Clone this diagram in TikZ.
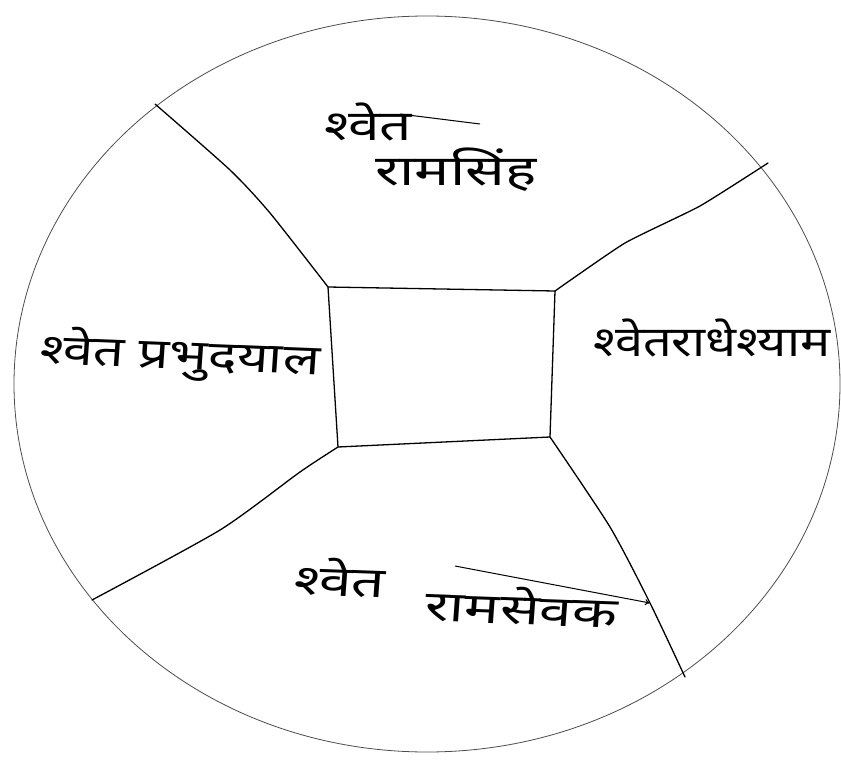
\documentclass[tikz,border=0pt]{standalone}
\usepackage{fontspec}
\newfontfamily\deva[Script=Devanagari]{Noto Sans}
\usetikzlibrary{arrows.meta}
\tikzset{
  wall/.style={line width=1.3pt, black, line cap=round, line join=round},
  rim/.style={line width=0.8pt, black!70},
  label/.style={font=\deva\fontsize{42}{46}\selectfont, inner sep=0pt, text=black},
  pointer/.style={line width=1pt, black, -{To[length=5pt,width=6pt]}},
}
\begin{document}
\begin{tikzpicture}[x=1pt,y=-1pt]
\useasboundingbox (0,0) rectangle (841,760);
% outer circle
\draw[rim] (427,384) ellipse [x radius=413pt, y radius=368pt];
% inner rectangle corners
\coordinate (tl) at (328,287);
\coordinate (tr) at (555,291);
\coordinate (br) at (550,437);
\coordinate (bl) at (338,447);
% ends on the circle
\coordinate (etl) at (155,104);
\coordinate (etr) at (768,163);
\coordinate (ebr) at (685,677);
\coordinate (ebl) at (92,600);
\coordinate (brmid) at (650,603);
\draw[wall] (tl) -- (tr) -- (br) -- (bl) -- cycle;
\draw[wall] plot[smooth, tension=0.4] coordinates {(tl) (270,213) (230,170) (etl)};
\draw[wall] plot[smooth, tension=0.3] coordinates {(tr) (625,243) (700,206) (etr)};
\draw[wall] plot[smooth, tension=0.4] coordinates {(br) (610,527) (brmid) (ebr)};
\draw[wall] plot[smooth, tension=0.4] coordinates {(bl) (300,472) (220,530) (ebl)};
% labels
\node[label, xscale=1.35] (top1) at (368,122) {श्वेत};
\node[label, xscale=1.4] (top2) at (456,170) {रामसिंह};
\node[label, xscale=1.3, rotate=-3] (left) at (180,356) {श्वेत प्रभुदयाल};
\node[label, xscale=1.2] (right) at (712,338) {श्वेतराधेश्याम};
\node[label, xscale=1.4, rotate=-3] (bottom1) at (340,578) {श्वेत};
\node[label, xscale=1.4, rotate=-3] (bottom2) at (522,606) {रामसेवक};
\coordinate (bstart) at (455,566);
\draw[pointer] (bstart) -- (brmid);
\draw[line width=1pt] (400,114) -- (480,124);
\end{tikzpicture}
\end{document}
